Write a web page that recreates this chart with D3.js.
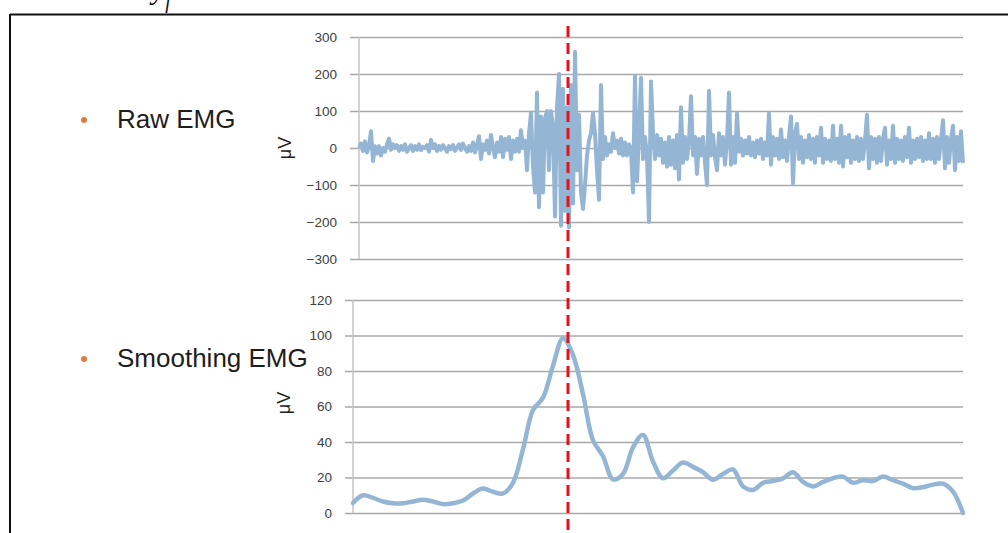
<!DOCTYPE html>
<html lang="en">
  <head>
    <meta charset="UTF-8">
    <title>EMG</title>
    <style>
body {margin: 0; background: #fff;}
svg {display: block; font-family: "Liberation Sans", Arial, sans-serif;}
.tick text {fill: #404040; font-size: 13.5px;}
.tick line {stroke: #a8a8a8; stroke-width: 1.5;}
</style>
  </head>
  <body>
<div id="my_dataviz"></div>
<script src="https://d3js.org/d3.v7.min.js"></script>
<script>

// raw EMG samples (uV), evenly spaced in time
var rawEmg = [
  0, 12, -8, 18, -12, 5, 45, -35, 5, -15,
  5, -20, 0, -10, 10, 25, -5, 10, 0, 8,
  -8, 5, -5, 10, -10, 0, 8, -8, 5, -5,
  10, -6, 3, 0, 8, -10, 22, 0, 10, -8,
  5, -5, 8, 0, -10, 5, -3, 8, -8, 2,
  10, -5, 12, 0, -10, 5, -8, 15, -12, 8,
  32, -30, 10, -5, 20, -15, 35, 0, -25, 15,
  -10, 30, -25, 25, -5, 30, -30, 20, -10, 25,
  -10, 48, 0, 20, -60, 40, 95, -50, -120, 150,
  -160, 85, -120, 80, 100, -60, 100, 60, -185, 110,
  200, -210, 160, -170, 110, -215, 170, -150, 260, -60,
  90, -120, -165, -100, -20, 20, 40, 95, 40, -60,
  -140, 170, -30, 30, -20, 10, -10, 40, 0, 20,
  -15, 25, -20, 15, -20, 10, -5, -120, 195, -90,
  40, 190, -30, 30, -20, -200, 180, 40, -30, 35,
  -20, 25, -40, 15, -50, 30, -45, 20, -55, 35,
  -85, 110, -40, 30, -30, 20, 140, -20, 30, -70,
  25, -20, 30, -40, -100, 155, -20, 35, -25, -60,
  40, -20, 30, -45, 20, 150, -45, 30, -40, 95,
  -10, 25, -20, 20, -15, 30, -20, 15, -25, 20,
  -15, 25, -30, 15, -20, 95, -45, 30, -20, 25,
  -30, 50, -25, 20, -35, 30, 85, -95, 40, 65,
  -30, 30, -40, 20, -25, 35, -30, 25, -40, 30,
  -20, 55, -40, 25, -30, 20, -35, 60, -30, 25,
  -40, 60, -50, 30, -25, 35, -40, 20, -30, 30,
  -35, 25, -30, 20, 90, -55, 30, -30, 25, -40,
  30, -35, 25, 55, -45, 20, -30, 60, -40, 25,
  -30, 20, -35, 30, -25, 55, -40, 20, -30, 25,
  -25, 30, -35, 20, -30, 40, -30, 25, -40, 30,
  -30, 20, 75, -55, 30, -40, 25, 60, -60, 30,
  -35, 45, -40
];

// smoothed EMG envelope (uV), evenly spaced in time
var smoothEmg = [
  5.6, 10, 8.5, 6.5, 5.5, 5.5, 6.5, 7.5, 6.5, 5,
  5.5, 7, 11, 13.8, 12, 11, 17, 36, 58, 65,
  83, 98.5, 89, 67, 41, 32, 19, 22, 37, 44,
  29, 19.6, 24, 28.4, 26, 23, 18.7, 22, 24.5, 15,
  13, 17, 18, 19.5, 23, 17.5, 15, 17.5, 19.6, 20.5,
  17, 18.5, 18, 20.5, 18.5, 16.5, 14, 14.5, 16, 16.5,
  12, 0
];

// onset marker, in smoothed-sample units
var onsetIndex = 21.5;

var rawTicks = [-300, -200, -100, 0, 100, 200, 300];
var smoothTicks = [0, 20, 40, 60, 80, 100, 120];
var bulletLabels = ["Raw EMG", "Smoothing EMG"];
var unitLabel = "\u03bcV";

var width = 1008, height = 533;
var lineColor = "#94b6d4";

var svg = d3.select("#my_dataviz")
  .append("svg")
    .attr("width", width)
    .attr("height", height);

// frame of the slide
svg.append("line")
  .attr("x1", 10).attr("y1", 14.5).attr("x2", width).attr("y2", 14.5)
  .attr("stroke", "#111").attr("stroke-width", 2);
svg.append("line")
  .attr("x1", 10).attr("y1", 14).attr("x2", 10).attr("y2", height)
  .attr("stroke", "#111").attr("stroke-width", 2);

// formula above the frame, cut by the top edge as in the slide
var formula = svg.append("text")
  .attr("x", 152).attr("y", -1)
  .attr("font-family", "'Liberation Serif', serif")
  .attr("font-style", "italic")
  .attr("font-size", 30)
  .attr("fill", "#111");
formula.append("tspan").text("y");
formula.append("tspan").attr("font-size", 20).attr("dy", 9).text("f");

// ---- raw panel ----
var xRaw = d3.scaleLinear()
  .domain([0, rawEmg.length - 1])
  .range([359, 963]);
var yRaw = d3.scaleLinear()
  .domain([-300, 300])
  .range([259, 37]);

var rawAxis = svg.append("g")
  .attr("transform", "translate(350,0)")
  .call(d3.axisLeft(yRaw).tickValues(rawTicks).tickSize(-(963 - 350)).tickPadding(13));
rawAxis.select(".domain").remove();

svg.append("line")
  .attr("x1", 359).attr("x2", 359)
  .attr("y1", yRaw(300)).attr("y2", yRaw(-300))
  .attr("stroke", "#c4c4c4").attr("stroke-width", 1.5);

svg.append("path")
  .datum(rawEmg)
  .attr("fill", "none")
  .attr("stroke", lineColor)
  .attr("stroke-width", 4)
  .attr("stroke-linejoin", "round")
  .attr("d", d3.line()
    .x(function(d, i) { return xRaw(i); })
    .y(function(d) { return yRaw(d); }));

// ---- smoothed panel ----
var xSm = d3.scaleLinear()
  .domain([0, smoothEmg.length - 1])
  .range([353, 963]);
var ySm = d3.scaleLinear()
  .domain([0, 120])
  .range([513, 300]);

var smAxis = svg.append("g")
  .attr("transform", "translate(345,0)")
  .call(d3.axisLeft(ySm).tickValues(smoothTicks).tickSize(-(963 - 345)).tickPadding(13));
smAxis.select(".domain").remove();

svg.append("line")
  .attr("x1", 353).attr("x2", 353)
  .attr("y1", ySm(120)).attr("y2", ySm(0))
  .attr("stroke", "#c4c4c4").attr("stroke-width", 1.5);

svg.append("path")
  .datum(smoothEmg)
  .attr("fill", "none")
  .attr("stroke", lineColor)
  .attr("stroke-width", 4.5)
  .attr("stroke-linecap", "round")
  .attr("d", d3.line()
    .curve(d3.curveCatmullRom)
    .x(function(d, i) { return xSm(i); })
    .y(function(d) { return ySm(d); }));

// unit labels
[[285, yRaw(0)], [284, 403]].forEach(function(p) {
  svg.append("text")
    .attr("transform", "translate(" + p[0] + "," + p[1] + ") rotate(-90)")
    .attr("text-anchor", "middle")
    .attr("dy", "0.35em")
    .attr("font-size", 18)
    .attr("fill", "#222")
    .text(unitLabel);
});

// bullet captions
var bulletY = [128, 367];
bulletLabels.forEach(function(t, i) {
  svg.append("circle")
    .attr("cx", 84).attr("cy", bulletY[i] - 8).attr("r", 3)
    .attr("fill", "#e07b3c");
  svg.append("text")
    .attr("x", 117).attr("y", bulletY[i])
    .attr("font-size", 26)
    .attr("fill", "#1e1e1e")
    .text(t);
});

// onset marker
svg.append("line")
  .attr("x1", xSm(onsetIndex)).attr("x2", xSm(onsetIndex))
  .attr("y1", 26).attr("y2", height)
  .attr("stroke", "#e8101a")
  .attr("stroke-width", 3)
  .attr("stroke-dasharray", "11,6");

</script>
  </body>
</html>
